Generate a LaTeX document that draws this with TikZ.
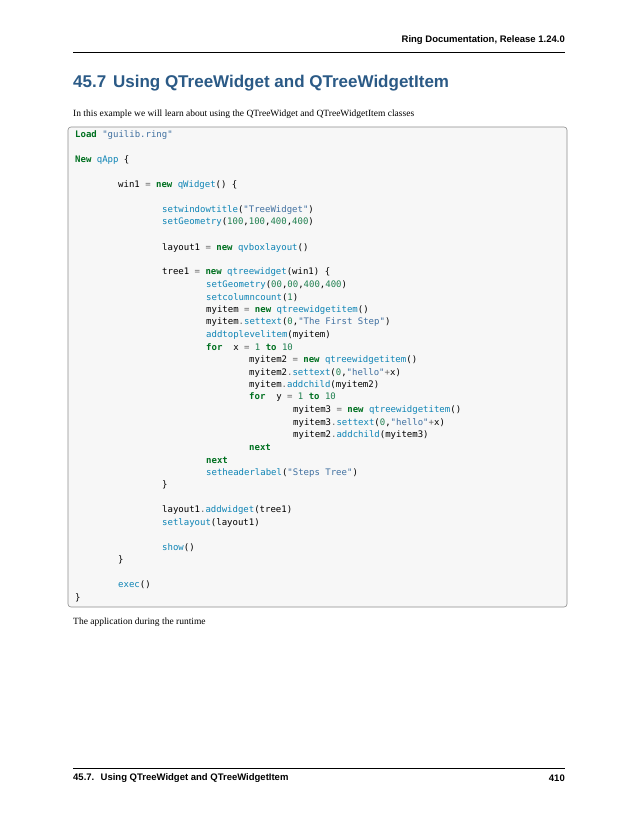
\documentclass[tikz,border=0pt]{standalone}
\usepackage{fontspec}
\setmainfont{Liberation Serif}
\setsansfont{Liberation Sans}
\setmonofont{DejaVu Sans Mono}
\definecolor{kwc}{HTML}{007020}
\definecolor{stc}{HTML}{4070A0}
\definecolor{fnc}{HTML}{0E84B5}
\definecolor{nmc}{HTML}{208050}
\definecolor{opc}{HTML}{666666}
\definecolor{headc}{HTML}{2B5A86}
\newcommand\kw[1]{\textcolor{kwc}{\bfseries #1}}
\newcommand\st[1]{\textcolor{stc}{#1}}
\newcommand\fn[1]{\textcolor{fnc}{#1}}
\newcommand\nm[1]{\textcolor{nmc}{#1}}
\newcommand\op[1]{\textcolor{opc}{#1}}
\begin{document}
\begin{tikzpicture}[x=1pt,y=-1pt,
  code/.style={anchor=west,inner sep=0pt,font=\ttfamily\fontsize{9}{10}\selectfont},
  txt/.style={anchor=west,inner sep=0pt,font=\fontsize{9.5}{11}\selectfont}]
\useasboundingbox (0,0) rectangle (638,825);
\fill[white] (0,0) rectangle (638,825);
\node[anchor=east,inner sep=0pt,font=\sffamily\bfseries\fontsize{9.5}{11}\selectfont] (hdr) at (565,40) {Ring Documentation, Release 1.24.0};
\draw[line width=0.4pt] (73,52) -- (565,52);
\node[anchor=west,inner sep=0pt,text=headc,font=\sffamily\bfseries\fontsize{17}{20}\selectfont] (title) at (73,83) {45.7\hspace{0.4em}Using QTreeWidget and QTreeWidgetItem};
\node[txt] (intro) at (73,114) {In this example we will learn about using the QTreeWidget and QTreeWidgetItem classes};
\draw[rounded corners=3pt,fill=black!3,draw=black!45,line width=0.6pt] (68,127) rectangle (567,607);
\newcommand\cl[3]{\node[code] (c#2) at (#1,135+12.5*#2) {#3};}
\cl{75}{0}{\kw{Load} \st{"guilib.ring"}}
\cl{75}{2}{\kw{New} \fn{qApp} \{}
\cl{118}{4}{win1 \op{=} \kw{new} \fn{qWidget}() \{}
\cl{162}{6}{\fn{setwindowtitle}(\st{"TreeWidget"})}
\cl{162}{7}{\fn{setGeometry}(\nm{100},\nm{100},\nm{400},\nm{400})}
\cl{162}{9}{layout1 \op{=} \kw{new} \fn{qvboxlayout}()}
\cl{162}{11}{tree1 \op{=} \kw{new} \fn{qtreewidget}(win1) \{}
\cl{206}{12}{\fn{setGeometry}(\nm{00},\nm{00},\nm{400},\nm{400})}
\cl{206}{13}{\fn{setcolumncount}(\nm{1})}
\cl{206}{14}{myitem \op{=} \kw{new} \fn{qtreewidgetitem}()}
\cl{206}{15}{myitem\op{.}\fn{settext}(\nm{0},\st{"The First Step"})}
\cl{206}{16}{\fn{addtoplevelitem}(myitem)}
\cl{206}{17}{\kw{for}\ \ x \op{=} \nm{1} \kw{to} \nm{10}}
\cl{249}{18}{myitem2 \op{=} \kw{new} \fn{qtreewidgetitem}()}
\cl{249}{19}{myitem2\op{.}\fn{settext}(\nm{0},\st{"hello"}\op{+}x)}
\cl{249}{20}{myitem\op{.}\fn{addchild}(myitem2)}
\cl{249}{21}{\kw{for}\ \ y \op{=} \nm{1} \kw{to} \nm{10}}
\cl{293}{22}{myitem3 \op{=} \kw{new} \fn{qtreewidgetitem}()}
\cl{293}{23}{myitem3\op{.}\fn{settext}(\nm{0},\st{"hello"}\op{+}x)}
\cl{293}{24}{myitem2\op{.}\fn{addchild}(myitem3)}
\cl{249}{25}{\kw{next}}
\cl{206}{26}{\kw{next}}
\cl{206}{27}{\fn{setheaderlabel}(\st{"Steps Tree"})}
\cl{162}{28}{\}}
\cl{162}{30}{layout1\op{.}\fn{addwidget}(tree1)}
\cl{162}{31}{\fn{setlayout}(layout1)}
\cl{162}{33}{\fn{show}()}
\cl{118}{34}{\}}
\cl{118}{36}{\fn{exec}()}
\cl{75}{37}{\}}
\node[txt] (app) at (73,622) {The application during the runtime};
\draw[line width=0.4pt] (73,768) -- (565,768);
\node[anchor=west,inner sep=0pt,font=\sffamily\bfseries\fontsize{9.5}{11}\selectfont] (ftl) at (73,778) {45.7.\hspace{0.3em} Using QTreeWidget and QTreeWidgetItem};
\node[anchor=east,inner sep=0pt,font=\sffamily\bfseries\fontsize{9.5}{11}\selectfont] (ftr) at (565,778) {410};
\end{tikzpicture}
\end{document}
